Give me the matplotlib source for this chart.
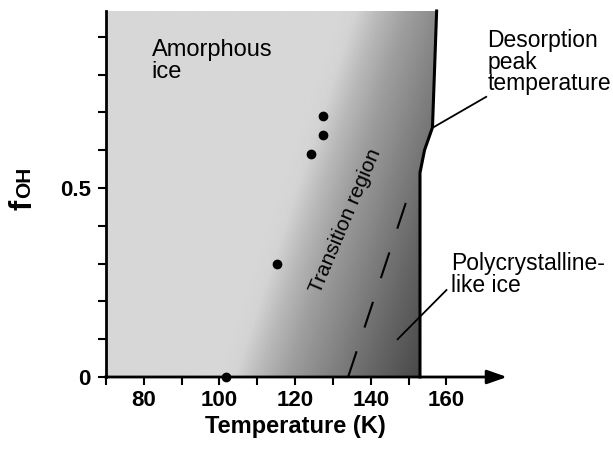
import numpy as np
import matplotlib.pyplot as plt
from matplotlib.patches import Polygon

plt.rcParams['font.family'] = ['Liberation Sans', 'DejaVu Sans']

# measured points
temp_pts = [101.8, 115.3, 124.2, 127.3, 127.3]
foh_pts = [0.0, 0.30, 0.59, 0.64, 0.69]

# desorption peak temperature boundary
desorb_T = [153.0, 153.0, 154.2, 156.3, 157.4]
desorb_f = [0.0, 0.54, 0.60, 0.66, 0.968]

# dashed line inside transition region
dash_T = [134.0, 149.7]
dash_f = [0.0, 0.474]

# shading: grey level vs slanted coordinate u = T - slope*f
slope = 33.0
shade_u = [100, 104, 110, 118, 130, 140, 155]
shade_g = [0.84, 0.83, 0.73, 0.62, 0.50, 0.40, 0.27]

xticks = [70, 80, 90, 100, 110, 120, 130, 140, 150, 160]
xticklabels = ['', '80', '', '100', '', '120', '', '140', '', '160']
yticks = [0, 0.1, 0.2, 0.3, 0.4, 0.5, 0.6, 0.7, 0.8, 0.9]
yticklabels = ['0', '', '', '', '', '0.5', '', '', '', '']

fig = plt.figure(figsize=(6.13, 4.49), dpi=100)
ax = fig.add_axes([106/613, 72/449, 401/613, 366/449])
ax.set_xlim(70, 176)
ax.set_ylim(0, 0.968)

# background gradient clipped to the region left of the desorption line
T = np.linspace(70, 158, 400)
F = np.linspace(0, 0.968, 300)
TT, FF = np.meshgrid(T, F)
G = np.interp(TT - slope * FF, shade_u, shade_g)
im = ax.imshow(G, extent=(70, 158, 0, 0.968), origin='lower', cmap='gray',
               vmin=0, vmax=1, aspect='auto', interpolation='bilinear', zorder=0)
clip = Polygon([(70, 0)] + list(zip(desorb_T, desorb_f)) + [(70, 0.968)],
               closed=True, transform=ax.transData, facecolor='none', edgecolor='none')
ax.add_patch(clip)
im.set_clip_path(clip)

ax.plot(desorb_T, desorb_f, color='black', lw=2.2, zorder=3, clip_on=False)
ax.plot(dash_T, dash_f, color='black', lw=1.5, linestyle=(0, (13, 12)), zorder=3)
ax.plot(temp_pts, foh_pts, 'o', color='black', ms=6, zorder=4, clip_on=False)

# axes
for s in ['top', 'right', 'bottom']:
    ax.spines[s].set_visible(False)
ax.spines['left'].set_linewidth(2)
ax.annotate('', xy=(176, 0), xytext=(69.7, 0), xycoords='data',
            arrowprops=dict(arrowstyle='-|>,head_length=0.4,head_width=0.14',
                            mutation_scale=30, lw=2, color='black',
                            shrinkA=0, shrinkB=0), annotation_clip=False, zorder=5)

ax.set_xticks(xticks)
ax.set_xticklabels(xticklabels, fontsize=16, fontweight='bold')
ax.set_yticks(yticks)
ax.set_yticklabels(yticklabels, fontsize=16, fontweight='bold')
ax.tick_params(axis='both', length=6, width=1.5, direction='out')
ax.tick_params(axis='x', pad=3)
ax.tick_params(axis='y', pad=5)

fig.text(295/613, 1 - 427/449, 'Temperature (K)', ha='center', va='center',
         fontsize=17, fontweight='bold')
fig.text(23/613, 1 - 205/449, 'f', rotation=90, ha='center', va='center',
         fontsize=22, fontweight='bold')
fig.text(25/613, 1 - 182/449, 'OH', rotation=90, ha='center', va='center',
         fontsize=15, fontweight='bold')

# region labels
ax.text(82.1, 0.895, 'Amorphous\nice', fontsize=17, va='top', ha='left',
        linespacing=1.0)
ax.text(133.2, 0.413, 'Transition region', fontsize=15, rotation=67,
        ha='center', va='center', rotation_mode='anchor')
ax.text(170.8, 0.92, 'Desorption\npeak\ntemperature', fontsize=16.5,
        va='top', ha='left', linespacing=0.92, clip_on=False)
ax.plot([156.3, 170.5], [0.659, 0.741], color='black', lw=1.3, clip_on=False)
ax.text(161.3, 0.33, 'Polycrystalline-\nlike ice', fontsize=16.5,
        va='top', ha='left', linespacing=0.92, clip_on=False)
ax.plot([147.1, 160.0], [0.10, 0.23], color='black', lw=1.3, clip_on=False)

fig.savefig('out.png', dpi=100)
